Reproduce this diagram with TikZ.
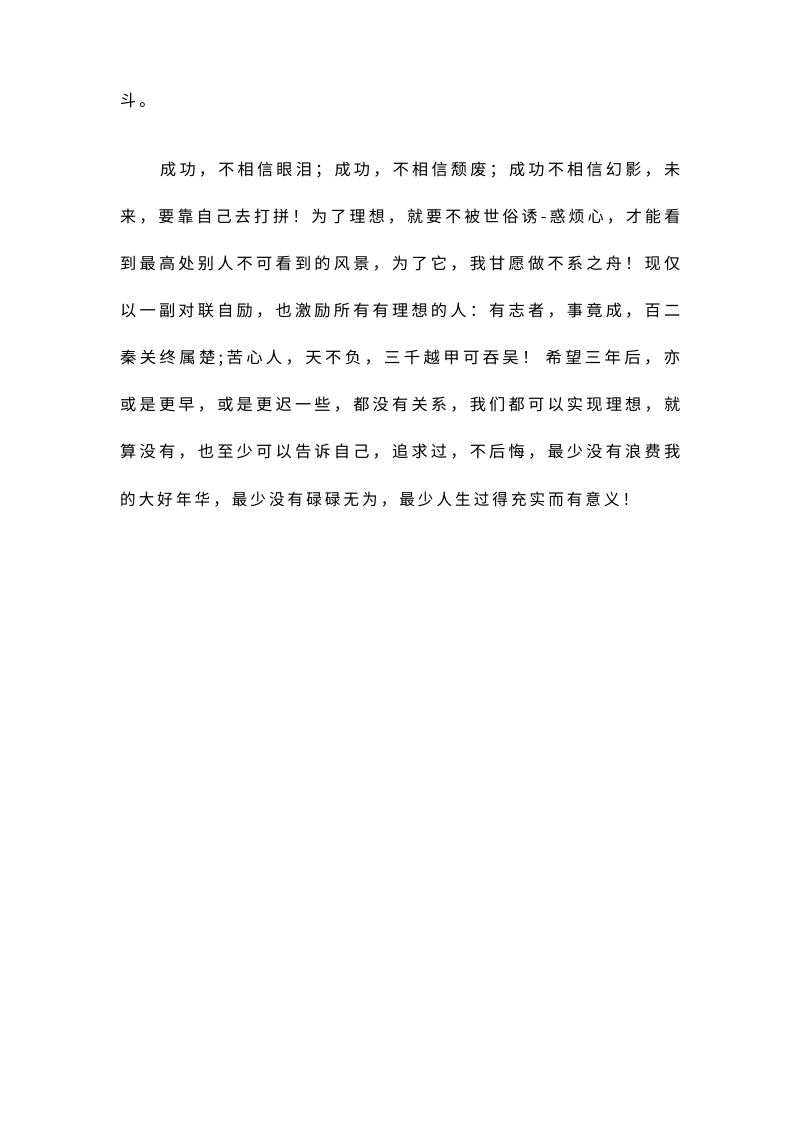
\documentclass[tikz,border=0pt]{standalone}
\usepackage{fontspec}
\newfontfamily\cjk{Noto Sans CJK SC}[LetterSpace=20]
\newcommand{\fitline}[2]{\resizebox{#1}{\height}{#2}}
\begin{document}
\begin{tikzpicture}[x=1pt, y=-1pt, line/.style={anchor=west, inner sep=0pt, font=\cjk\fontsize{16pt}{16pt}\selectfont}]
            \useasboundingbox[fill=white] (0,0) rectangle (800,1132);
            \node[line] (l1) at (120,100) {斗。};
            \node[line] (l2) at (160,170) {\fitline{520pt}{成功，不相信眼泪；成功，不相信颓废；成功不相信幻影，未}};
            \node[line] (l3) at (120,217) {\fitline{560pt}{来，要靠自己去打拼！为了理想，就要不被世俗诱-惑烦心，才能看}};
            \node[line] (l4) at (120,264) {\fitline{560pt}{到最高处别人不可看到的风景，为了它，我甘愿做不系之舟！现仅}};
            \node[line] (l5) at (120,311) {\fitline{560pt}{以一副对联自励，也激励所有有理想的人：有志者，事竟成，百二}};
            \node[line] (l6) at (120,358) {\fitline{560pt}{秦关终属楚;苦心人，天不负，三千越甲可吞吴！ 希望三年后，亦}};
            \node[line] (l7) at (120,405) {\fitline{560pt}{或是更早，或是更迟一些，都没有关系，我们都可以实现理想，就}};
            \node[line] (l8) at (120,452) {\fitline{560pt}{算没有，也至少可以告诉自己，追求过，不后悔，最少没有浪费我}};
            \node[line] (l9) at (120,500) {\fitline{518pt}{的大好年华，最少没有碌碌无为，最少人生过得充实而有意义！}};
        \end{tikzpicture}
\end{document}
